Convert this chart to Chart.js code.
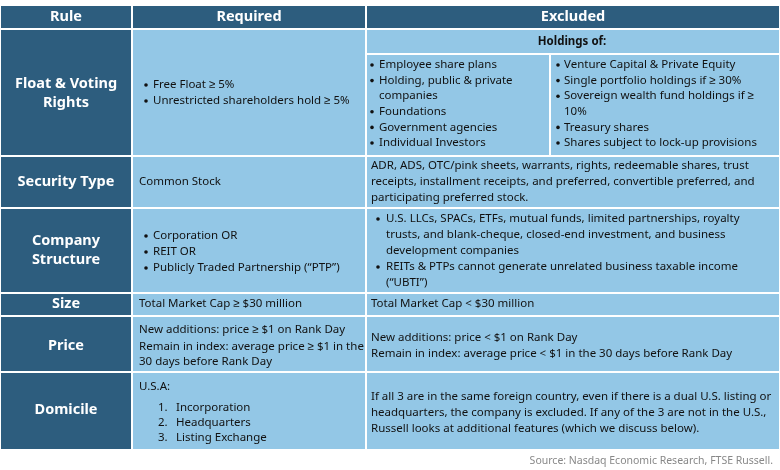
<!DOCTYPE html>
<html><head><meta charset="utf-8">
<script src="https://cdn.jsdelivr.net/npm/chart.js@4"></script>
<style>html,body{margin:0;padding:0;background:#fff}#wrap{width:780px;height:470px}</style>
</head><body><div id="wrap"><canvas id="c"></canvas></div>
<script>
const headers = ["Rule","Required","Excluded"];
const rules = [["Float & Voting","Rights"],["Security Type"],["Company","Structure"],["Size"],["Price"],["Domicile"]];
const floatRequired = ["Free Float ≥ 5%","Unrestricted shareholders hold ≥ 5%"];
const floatExclLeft = [["Employee share plans"],["Holding, public & private","companies"],["Foundations"],["Government agencies"],["Individual Investors"]];
const floatExclRight = [["Venture Capital & Private Equity"],["Single portfolio holdings if ≥ 30%"],["Sovereign wealth fund holdings if ≥","10%"],["Treasury shares"],["Shares subject to lock-up provisions"]];
const securityRequired = ["Common Stock"];
const securityExcluded = ["ADR, ADS, OTC/pink sheets, warrants, rights, redeemable shares, trust","receipts, installment receipts, and preferred, convertible preferred, and","participating preferred stock."];
const companyRequired = ["Corporation OR","REIT OR","Publicly Traded Partnership (“PTP”)"];
const companyExcluded = [["U.S. LLCs, SPACs, ETFs, mutual funds, limited partnerships, royalty","trusts, and blank-cheque, closed-end investment, and business","development companies"],["REITs & PTPs cannot generate unrelated business taxable income","(“UBTI”)"]];
const sizeRequired = "Total Market Cap ≥ $30 million";
const sizeExcluded = "Total Market Cap < $30 million";
const priceRequired = ["New additions: price ≥ $1 on Rank Day","Remain in index: average price ≥ $1 in the","30 days before Rank Day"];
const priceExcluded = ["New additions: price < $1 on Rank Day","Remain in index: average price < $1 in the 30 days before Rank Day"];
const domicileRequired = ["Incorporation","Headquarters","Listing Exchange"];
const domicileExcluded = ["If all 3 are in the same foreign country, even if there is a dual U.S. listing or","headquarters, the company is excluded. If any of the 3 are not in the U.S.,","Russell looks at additional features (which we discuss below)."];
const sourceText = "Source: Nasdaq Economic Research, FTSE Russell.";

const colEdges = [0,132,366,780];
const rowEdges = [5,29,156,208,293,316,372,450];
const DARK="#2d5d7e", LIGHT="#93c7e6";
const FONT="'Noto Sans', sans-serif";

const tablePlugin = {
  id:'table',
  afterDraw(chart){
    const ctx=chart.ctx, X=v=>chart.scales.x.getPixelForValue(v), Y=v=>chart.scales.y.getPixelForValue(v);
    ctx.save();
    // cells
    for(let r=0;r<rowEdges.length-1;r++){
      for(let c=0;c<3;c++){
        ctx.fillStyle=(r===0||c===0)?DARK:LIGHT;
        ctx.fillRect(X(colEdges[c])+1,Y(rowEdges[r])+1,X(colEdges[c+1])-X(colEdges[c])-2,Y(rowEdges[r+1])-Y(rowEdges[r])-2);
      }
    }
    // holdings sub-divider
    ctx.fillStyle="#fff";
    ctx.fillRect(X(366),Y(53),414,2);
    ctx.fillRect(X(549),Y(53),2,Y(156)-Y(53));
    const txt=(s,x,y,opt={})=>{
      ctx.font=(opt.bold?"bold ":"")+(opt.size||11.5)+"px "+FONT;
      ctx.fillStyle=opt.color||"#111";
      ctx.textAlign=opt.align||"left"; ctx.textBaseline="middle";
      ctx.fillText(s,X(x),Y(y));
    };
    const bullet=(x,y)=>{ctx.fillStyle="#111";ctx.beginPath();ctx.arc(X(x),Y(y),1.8,0,Math.PI*2);ctx.fill();};
    // headers
    headers.forEach((h,i)=>txt(h,(colEdges[i]+colEdges[i+1])/2,17,{bold:true,size:14.5,color:"#fff",align:"center"}));
    // rule column
    const ruleY=[[84,103],[182],[241,260],[304],[346],[410]];
    rules.forEach((ls,i)=>ls.forEach((l,j)=>txt(l,66,ruleY[i][j],{bold:true,size:14.5,color:"#fff",align:"center"})));
    // float
    floatRequired.forEach((l,i)=>{bullet(146,85+i*16);txt(l,153,85+i*16);});
    txt("Holdings of:",572,42,{bold:true,size:11.5,align:"center"});
    let y=65;
    floatExclLeft.forEach(it=>{bullet(372,y);it.forEach((l,j)=>{txt(l,379,y);y+=15.6;});});
    y=65;
    floatExclRight.forEach(it=>{bullet(558,y);it.forEach((l,j)=>{txt(l,564,y);y+=15.6;});});
    // security
    securityRequired.forEach(l=>txt(l,139,182));
    securityExcluded.forEach((l,i)=>txt(l,371,166+i*16));
    // company
    companyRequired.forEach((l,i)=>{bullet(146,236+i*16);txt(l,153,236+i*16);});
    y=219;
    companyExcluded.forEach(it=>{bullet(378,y);it.forEach(l=>{txt(l,386,y);y+=16;});});
    // size
    txt(sizeRequired,139,304); txt(sizeExcluded,371,304);
    // price
    [330,347,362].forEach((yy,i)=>txt(priceRequired[i],139,yy));
    priceExcluded.forEach((l,i)=>txt(l,371,338+i*16));
    // domicile
    txt("U.S.A:",139,387);
    domicileRequired.forEach((l,i)=>{txt((i+1)+".",158,408+i*15);txt(l,176,408+i*15);});
    domicileExcluded.forEach((l,i)=>txt(l,371,397+i*16));
    txt(sourceText,773,461,{size:10.5,color:"#888",align:"right"});
    ctx.restore();
  }
};

new Chart(document.getElementById('c'),{
  type:'scatter',
  data:{datasets:[{data:[],pointRadius:0}]},
  options:{responsive:true,maintainAspectRatio:false,animation:false,
    layout:{padding:0},
    plugins:{legend:{display:false},tooltip:{enabled:false}},
    scales:{x:{type:'linear',min:0,max:780,display:false},y:{type:'linear',min:0,max:470,reverse:true,display:false}}},
  plugins:[tablePlugin]
});
</script></body></html>
